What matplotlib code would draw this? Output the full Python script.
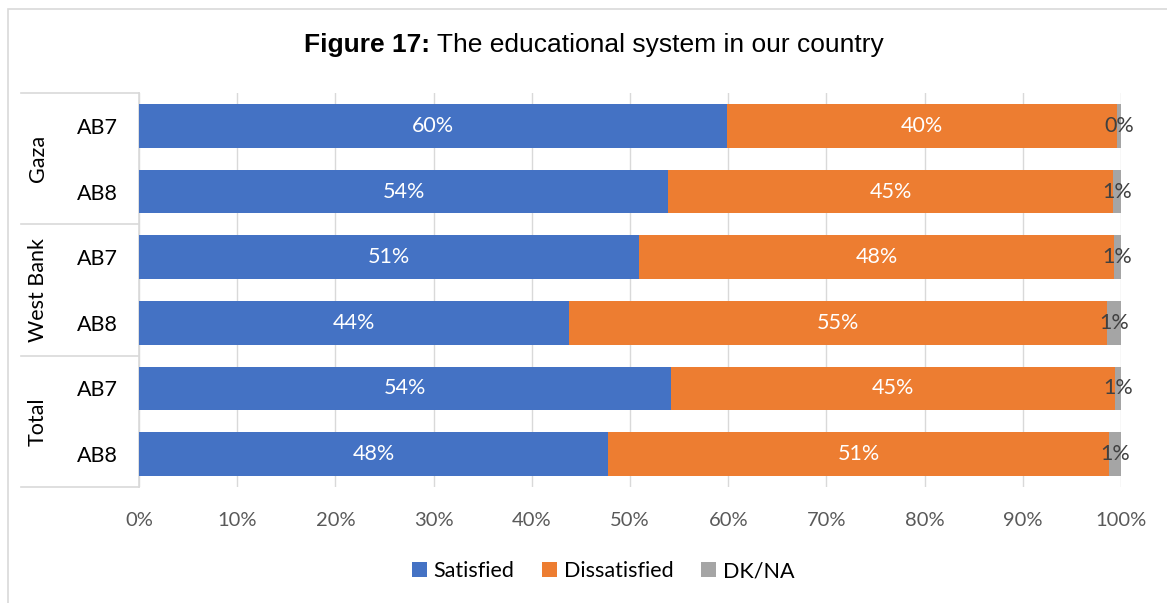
import matplotlib.pyplot as plt
from matplotlib.patches import Rectangle
from matplotlib.transforms import blended_transform_factory

# ===== data =====
groups = ["Gaza", "West Bank", "Total"]
rounds = ["AB7", "AB8", "AB7", "AB8", "AB7", "AB8"]
satisfied = [59.9, 53.9, 50.9, 43.8, 54.2, 47.8]
dissatisfied = [39.7, 45.3, 48.4, 54.8, 45.2, 51.0]
dkna = [0.4, 0.8, 0.7, 1.4, 0.6, 1.2]
series_names = ["Satisfied", "Dissatisfied", "DK/NA"]
colors = ["#4472C4", "#ED7D31", "#A5A5A5"]

W, H = 1167, 603
plt.rcParams["font.family"] = ["Lato", "DejaVu Sans"]


def main():
    fig = plt.figure(figsize=(W / 100, H / 100), dpi=100)
    ax = fig.add_axes([139 / W, 1 - 487 / H, (1121 - 139) / W, (487 - 93) / H])

    # outer chart border (top + left visible)
    fig.patches.append(Rectangle((8 / W, -0.2), 2, 1.2 - 9 / H, transform=fig.transFigure,
                                 fill=False, edgecolor="#d9d9d9", lw=1.2))

    y = list(range(len(rounds)))
    left = [0] * len(rounds)
    for vals, name, col in zip([satisfied, dissatisfied, dkna], series_names, colors):
        bars = ax.barh(y, vals, left=left, height=0.67, color=col, label=name, zorder=3)
        txtcol = "#404040" if name == "DK/NA" else "white"
        ax.bar_label(bars, labels=[f"{round(v)}%" for v in vals], label_type="center",
                     color=txtcol, fontsize=15.5)
        left = [a + b for a, b in zip(left, vals)]

    ax.set_xlim(0, 100)
    ax.set_ylim(len(rounds) - 0.5, -0.5)
    ax.set_xticks(range(0, 101, 10))
    ax.set_xticklabels([f"{t}%" for t in range(0, 101, 10)], fontsize=14.5, color="#595959")
    ax.tick_params(axis="x", length=0, pad=18)
    ax.set_yticks(y)
    ax.set_yticklabels(rounds, fontsize=15.5, color="black")
    ax.tick_params(axis="y", length=0, pad=15.5)
    ax.grid(axis="x", color="#d9d9d9", lw=1, zorder=0)
    for s in ["top", "right", "bottom"]:
        ax.spines[s].set_visible(False)
    ax.spines["left"].set_color("#d9d9d9")
    ax.spines["left"].set_linewidth(1.2)

    # group separators and labels
    tr = blended_transform_factory(ax.transAxes, ax.transData)
    x0 = (21 - 139) / (1121 - 139)
    for yy in [-0.5, 1.5, 3.5, 5.5]:
        ax.plot([x0, 0], [yy, yy], transform=tr, color="#d9d9d9", lw=1.2, clip_on=False)
    xl = (38 - 139) / (1121 - 139)
    for i, g in enumerate(groups):
        ax.text(xl, 2 * i + 0.5, g, transform=tr, rotation=90, ha="center", va="center",
                fontsize=15.5)

    # title: bold prefix + regular remainder, centred as a whole
    ty = 1 - 45 / H
    t1 = fig.text(0, ty, "Figure 17:", ha="left", va="center",
                  fontsize=19, fontweight="bold", family="Liberation Sans")
    t2 = fig.text(0, ty, " The educational system in our country", ha="left", va="center",
                  fontsize=19, family="Liberation Sans")
    fig.canvas.draw()
    w1 = t1.get_window_extent().width
    w2 = t2.get_window_extent().width
    start = 594 - (w1 + w2) / 2
    t1.set_x(start / W)
    t2.set_x((start + w1) / W)

    ax.legend(loc="center", bbox_to_anchor=(603 / W, 1 - 571 / H), bbox_transform=fig.transFigure,
              ncol=3, frameon=False, fontsize=15.5, handlelength=0.7, handleheight=0.7,
              columnspacing=1.3, handletextpad=0.3)

    fig.savefig("out.png", dpi=100)


if __name__ == "__main__":
    main()
